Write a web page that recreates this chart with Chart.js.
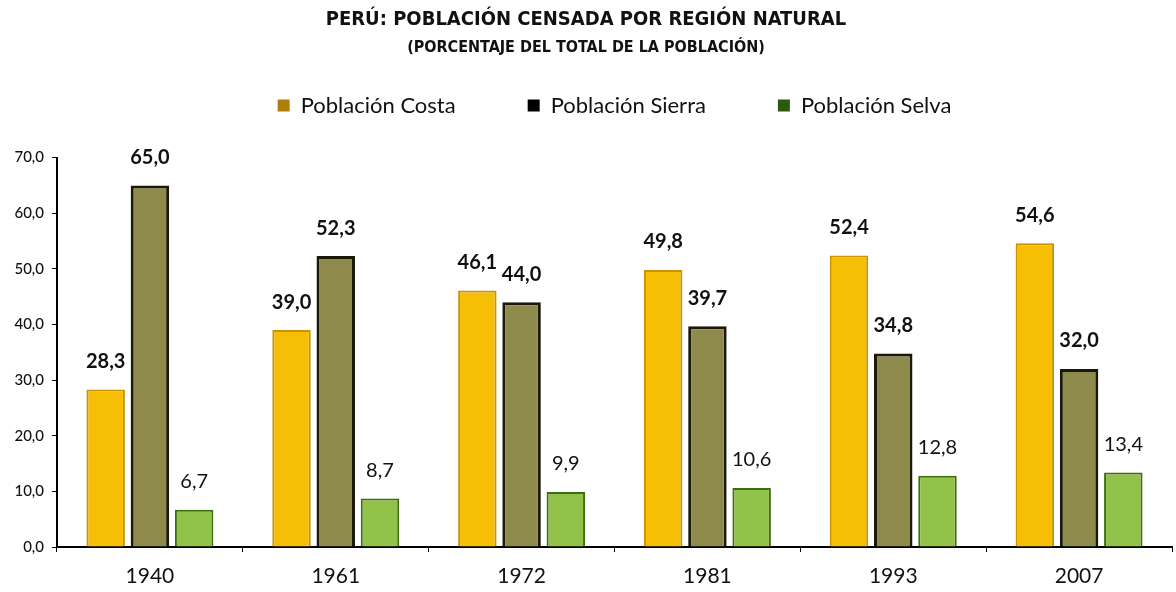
<!DOCTYPE html>
<html>
<head>
<meta charset="utf-8">
<script src="https://cdn.jsdelivr.net/npm/chart.js@4"></script>
<style>
  html, body { margin: 0; padding: 0; background: #fff; }
  #wrap { width: 1176px; height: 592px; }
</style>
</head>
<body>
<div id="wrap"><canvas id="censoChart" width="1176" height="592"></canvas></div>
<script>
const years = ["1940", "1961", "1972", "1981", "1993", "2007"];
const costa = [28.3, 39.0, 46.1, 49.8, 52.4, 54.6];
const sierra = [65.0, 52.3, 44.0, 39.7, 34.8, 32.0];
const selva = [6.7, 8.7, 9.9, 10.6, 12.8, 13.4];
const yTicks = [0, 10, 20, 30, 40, 50, 60, 70];

const legendColors = ["#b07d08", "#000000", "#2d5a0c"];

function fmt(v) {
  return v.toFixed(1).replace(".", ",");
}

// draws the value above each bar
const valueLabels = {
  id: "valueLabels",
  afterDatasetsDraw(chart) {
    const ctx = chart.ctx;
    ctx.save();
    ctx.textAlign = "center";
    ctx.textBaseline = "middle";
    ctx.fillStyle = "#111";
    chart.data.datasets.forEach((ds, i) => {
      const meta = chart.getDatasetMeta(i);
      ctx.font = (i < 2 ? "bold " : "") + "20px Lato, 'Open Sans', sans-serif";
      meta.data.forEach((bar, j) => {
        ctx.fillText(fmt(ds.data[j]), bar.x, bar.y - 28);
      });
    });
    ctx.restore();
  }
};

// extra space between legend and plot
const legendGap = {
  id: "legendGap",
  beforeLayout(chart) {
    const lg = chart.legend;
    if (lg && !lg._gapAdded) {
      const fit = lg.fit;
      lg.fit = function () {
        fit.call(this);
        this.height += 31;
      };
      lg._gapAdded = true;
    }
  }
};

const ctx = document.getElementById("censoChart").getContext("2d");
const censoChart = new Chart(ctx, {
  type: "bar",
  data: {
    labels: years,
    datasets: [
      {
        label: "Población Costa",
        data: costa,
        backgroundColor: "#f6bf06",
        borderColor: "#c99200",
        borderWidth: 2
      },
      {
        label: "Población Sierra",
        data: sierra,
        backgroundColor: "#8e8a4c",
        borderColor: "#1a1806",
        borderWidth: 3
      },
      {
        label: "Población Selva",
        data: selva,
        backgroundColor: "#93c24b",
        borderColor: "#3a6e0e",
        borderWidth: 2
      }
    ]
  },
  options: {
    responsive: false,
    animation: false,
    categoryPercentage: 0.714,
    barPercentage: 0.87,
    layout: { padding: { left: 0, right: 4, top: 0, bottom: 0 } },
    plugins: {
      title: {
        display: true,
        text: "PERÚ: POBLACIÓN CENSADA POR REGIÓN NATURAL",
        color: "#111",
        font: { family: "'Liberation Sans Narrow', 'DejaVu Sans Condensed', sans-serif", size: 20, weight: "bold" },
        padding: { top: 8, bottom: -9.6 }
      },
      subtitle: {
        display: true,
        text: "(PORCENTAJE DEL TOTAL DE LA POBLACIÓN)",
        color: "#111",
        font: { family: "'Liberation Sans Narrow', 'DejaVu Sans Condensed', sans-serif", size: 16, weight: "bold" },
        padding: { top: 16, bottom: -35 }
      },
      legend: {
        position: "top",
        fullSize: false,
        labels: {
          color: "#111",
          font: { family: "Lato, 'Open Sans', sans-serif", size: 22 },
          boxWidth: 12,
          boxHeight: 12,
          padding: 72,
          generateLabels(chart) {
            return chart.data.datasets.map((ds, i) => ({
              text: ds.label,
              fillStyle: legendColors[i],
              strokeStyle: legendColors[i],
              lineWidth: 0,
              hidden: false,
              datasetIndex: i,
              fontColor: "#111"
            }));
          }
        }
      },
      tooltip: { enabled: false }
    },
    scales: {
      x: {
        grid: {
          display: true,
          drawOnChartArea: false,
          offset: true,
          tickLength: 5,
          color: "#000"
        },
        border: { color: "#000", width: 2 },
        ticks: {
          color: "#111",
          font: { family: "Lato, 'Open Sans', sans-serif", size: 21 },
          padding: 12
        },
        afterFit(scale) { scale.height = 45; }
      },
      y: {
        min: 0,
        max: 70,
        afterBuildTicks(scale) {
          scale.ticks = yTicks.map(v => ({ value: v }));
        },
        grid: {
          display: true,
          drawOnChartArea: false,
          tickLength: 5,
          color: "#000"
        },
        border: { color: "#000", width: 2 },
        ticks: {
          color: "#111",
          font: { family: "Lato, 'Open Sans', sans-serif", size: 15, weight: "500" },
          padding: 8,
          callback: (v) => fmt(v)
        },
        afterFit(scale) { scale.width = 57; }
      }
    }
  },
  plugins: [valueLabels, legendGap]
});
</script>
</body>
</html>
